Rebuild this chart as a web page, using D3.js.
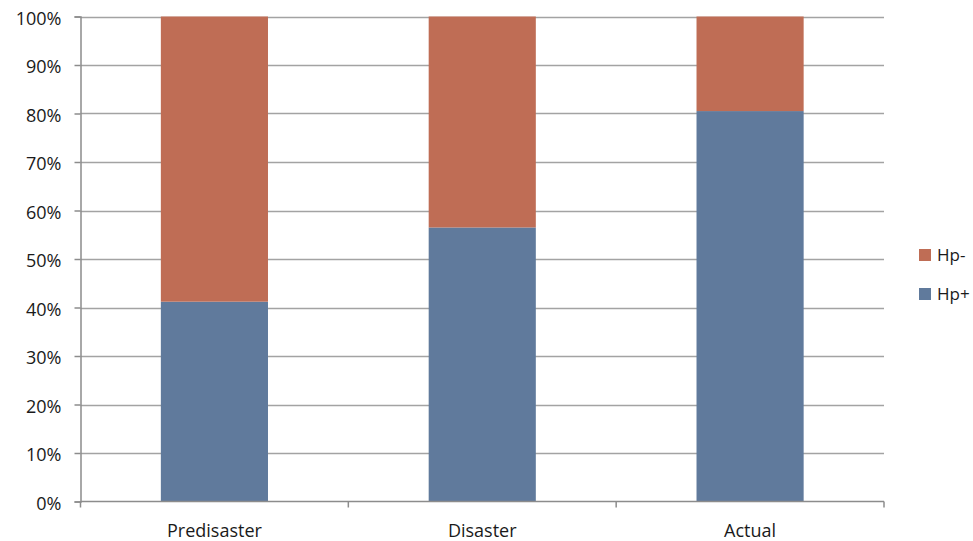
<!DOCTYPE html>
<html>
<head>
<meta charset="utf-8">
<script src="https://cdn.jsdelivr.net/npm/d3@7"></script>
<style>
  html, body { margin: 0; padding: 0; background: #fff; }
  svg text { font-family: "Open Sans", Lato, sans-serif; fill: #1a1a1a; }
</style>
</head>
<body>
<svg id="chart" width="973" height="541"></svg>
<script>
// Share of Hp+ / Hp- per period (percent)
const categories = ["Predisaster", "Disaster", "Actual"];
const hpPlus = [41.2, 56.5, 80.5];
const hpMinus = hpPlus.map(v => 100 - v);
const yTicks = [0, 10, 20, 30, 40, 50, 60, 70, 80, 90, 100];
const seriesNames = ["Hp-", "Hp+"];
const seriesColors = { "Hp+": "#607a9c", "Hp-": "#bf6d55" };

const svg = d3.select("#chart");
const plotLeft = 80.5, plotRight = 884, plotTop = 16.5, plotBottom = 501.5;

const x = d3.scaleBand().domain(categories).range([plotLeft, plotRight]).paddingInner(0.6).paddingOuter(0.3);
const xOuter = d3.scaleBand().domain(categories).range([plotLeft, plotRight]);
const y = d3.scaleLinear().domain([0, 100]).range([plotBottom, plotTop]);

// gridlines
svg.append("g")
  .selectAll("line")
  .data(yTicks.filter(t => t > 0))
  .join("line")
  .attr("x1", plotLeft).attr("x2", plotRight)
  .attr("y1", d => Math.round(y(d)) + 0.5).attr("y2", d => Math.round(y(d)) + 0.5)
  .attr("stroke", "#a3a3a3").attr("stroke-width", 1.5);

// stacked bars
const rows = categories.map((c, i) => ({ cat: c, "Hp+": hpPlus[i], "Hp-": hpMinus[i] }));
const stack = d3.stack().keys(["Hp+", "Hp-"])(rows);
svg.append("g")
  .selectAll("g")
  .data(stack)
  .join("g")
  .attr("fill", d => seriesColors[d.key])
  .selectAll("rect")
  .data(d => d)
  .join("rect")
  .attr("x", d => x(d.data.cat))
  .attr("width", x.bandwidth())
  .attr("y", d => y(d[1]))
  .attr("height", d => y(d[0]) - y(d[1]));

// y axis
const yAxis = d3.axisLeft(y).tickValues(yTicks).tickFormat(d => d + "%").tickSize(6).tickPadding(13);
const gy = svg.append("g").attr("transform", `translate(${plotLeft},0)`).call(yAxis);
gy.select(".domain").attr("stroke", "#8c8c8c").attr("stroke-width", 1.5);
gy.selectAll(".tick line").attr("stroke", "#8c8c8c").attr("stroke-width", 1.5);
gy.selectAll(".tick text").attr("font-size", 18).attr("dy", "0.42em").attr("fill", "#1a1a1a")
  .style("font-family", "'Open Sans', sans-serif");

// x axis: baseline with boundary ticks
const gx = svg.append("g");
gx.append("line").attr("x1", plotLeft).attr("x2", plotRight).attr("y1", plotBottom).attr("y2", plotBottom)
  .attr("stroke", "#8c8c8c").attr("stroke-width", 1.5);
const bounds = categories.map(c => xOuter(c)).concat([plotRight]);
gx.selectAll("line.b").data(bounds).join("line").attr("class", "b")
  .attr("x1", d => d).attr("x2", d => d).attr("y1", plotBottom).attr("y2", plotBottom + 6)
  .attr("stroke", "#8c8c8c").attr("stroke-width", 1.5);
gx.selectAll("text").data(categories).join("text")
  .attr("x", d => xOuter(d) + xOuter.bandwidth() / 2)
  .attr("y", 536.5)
  .attr("text-anchor", "middle")
  .attr("font-size", 18)
  .text(d => d);

// legend
const legend = svg.append("g").selectAll("g").data(seriesNames).join("g")
  .attr("transform", (d, i) => `translate(919,${249 + i * 39})`);
legend.append("rect").attr("width", 12).attr("height", 12).attr("fill", d => seriesColors[d]);
legend.append("text").attr("x", 18).attr("y", 12).attr("font-size", 17).text(d => d);
</script>
</body>
</html>
